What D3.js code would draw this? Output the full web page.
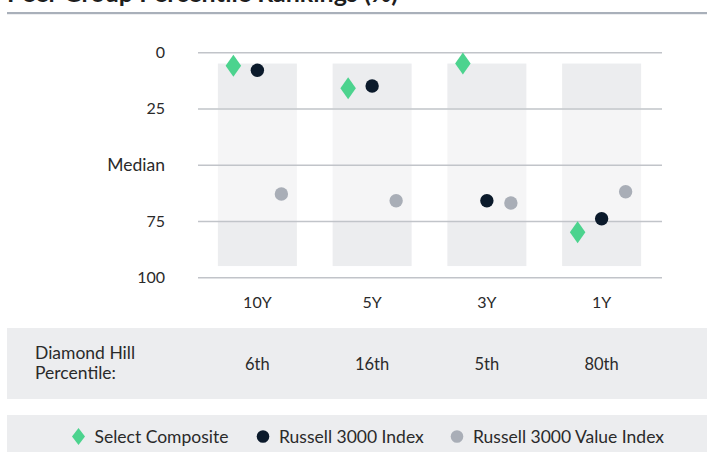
<!DOCTYPE html>
<html><head><meta charset="utf-8">
<script src="https://cdn.jsdelivr.net/npm/d3@7"></script>
<style>body{margin:0;background:#fff;} svg{display:block;font-family:Lato,"Open Sans",sans-serif;}</style>
</head><body>
<svg id="c" width="707" height="452"></svg>
<script>
const title = "Peer Group Percentile Rankings (%)";
const categories = ["10Y", "5Y", "3Y", "1Y"];
const selectComposite = [6, 16, 5, 80];
const russell3000 = [8, 15, 66, 74];
const russell3000Value = [63, 66, 67, 62];
const percentileLabels = ["6th", "16th", "5th", "80th"];
const yTicks = [0, 25, 50, 75, 100];
const yTickLabels = ["0", "25", "Median", "75", "100"];
const seriesNames = ["Select Composite", "Russell 3000 Index", "Russell 3000 Value Index"];
const seriesColors = ["#4cd38e", "#0b1a2b", "#a9aeb7"];

const svg = d3.select("#c");
const y = d3.scaleLinear().domain([0, 100]).range([52.3, 277.3]);
const x = d3.scaleBand().domain(categories).range([200, 659]).paddingInner(0.3115).paddingOuter(0.15575);
const gx0 = 198, gx1 = 662;
const textCol = "#2a2a2a";

// title (cropped at top edge as in the reference)
svg.append("text").attr("x", 7).attr("y", 1.5).attr("font-size", 25).attr("font-weight", 700)
  .attr("fill", "#1e1e1e").text(title);
svg.append("rect").attr("x", 7).attr("y", 12).attr("width", 700).attr("height", 2.2).attr("fill", "#a9b0ba");

// bands
const zones = [[5, 25, "#ecedef"], [25, 75, "#f5f5f6"], [75, 95, "#ecedef"]];
categories.forEach(c => {
  zones.forEach(z => {
    svg.append("rect").attr("x", x(c)).attr("width", x.bandwidth())
      .attr("y", y(z[0])).attr("height", y(z[1]) - y(z[0])).attr("fill", z[2]);
  });
});

// grid
const yAxis = d3.axisLeft(y).tickValues(yTicks).tickSize(gx0 - gx1).tickFormat((d, i) => yTickLabels[i]);
const ga = svg.append("g").attr("transform", `translate(${gx0},0)`).call(yAxis);
ga.select(".domain").remove();
ga.selectAll(".tick line").attr("stroke", "#c1c4c9").attr("stroke-width", 1.4);
ga.selectAll(".tick text").attr("x", -33).attr("fill", textCol)
  .attr("font-family", "Lato, sans-serif")
  .attr("font-size", (d, i) => yTickLabels[i] === "Median" ? 17.5 : 16);

// x labels
const xAxis = d3.axisBottom(x).tickSize(0);
const xa = svg.append("g").attr("transform", `translate(0,${y(100)})`).call(xAxis);
xa.select(".domain").remove();
xa.selectAll(".tick text").attr("y", 19).attr("font-size", 16).attr("fill", textCol)
  .attr("font-family", "Lato, sans-serif");

// points
const off = [-24, 0, 24];
const diamond = (cx, cy, w, h) => `M${cx},${cy - h / 2}L${cx + w / 2},${cy}L${cx},${cy + h / 2}L${cx - w / 2},${cy}Z`;
categories.forEach((c, i) => {
  const cx = x(c) + x.bandwidth() / 2;
  svg.append("circle").attr("cx", cx + off[2]).attr("cy", y(russell3000Value[i])).attr("r", 6.7).attr("fill", seriesColors[2]);
  svg.append("circle").attr("cx", cx + off[1]).attr("cy", y(russell3000[i])).attr("r", 6.7).attr("fill", seriesColors[1]);
  svg.append("path").attr("d", diamond(cx + off[0], y(selectComposite[i]), 15.5, 22)).attr("fill", seriesColors[0]);
});

// table
svg.append("rect").attr("x", 7).attr("y", 328).attr("width", 700).attr("height", 71).attr("fill", "#ecedef");
svg.append("text").attr("x", 35).attr("y", 359).attr("font-size", 17.5).attr("fill", textCol).text("Diamond Hill");
svg.append("text").attr("x", 35).attr("y", 379).attr("font-size", 17.5).attr("fill", textCol).text("Percentile:");
categories.forEach((c, i) => {
  svg.append("text").attr("x", x(c) + x.bandwidth() / 2).attr("y", 370).attr("text-anchor", "middle")
    .attr("font-size", 16.5).attr("fill", textCol).text(percentileLabels[i]);
});

// legend
svg.append("rect").attr("x", 7).attr("y", 415).attr("width", 700).attr("height", 37).attr("fill", "#ecedef");
const legX = [78.5, 263, 457];
seriesNames.forEach((n, i) => {
  if (i === 0) svg.append("path").attr("d", diamond(legX[i], 436.5, 13, 17)).attr("fill", seriesColors[0]);
  else svg.append("circle").attr("cx", legX[i]).attr("cy", 436.5).attr("r", 6.3).attr("fill", seriesColors[i]);
  svg.append("text").attr("x", legX[i] + 16).attr("y", 442.5).attr("font-size", 17.5).attr("fill", textCol).text(n);
});
</script>
</body></html>
